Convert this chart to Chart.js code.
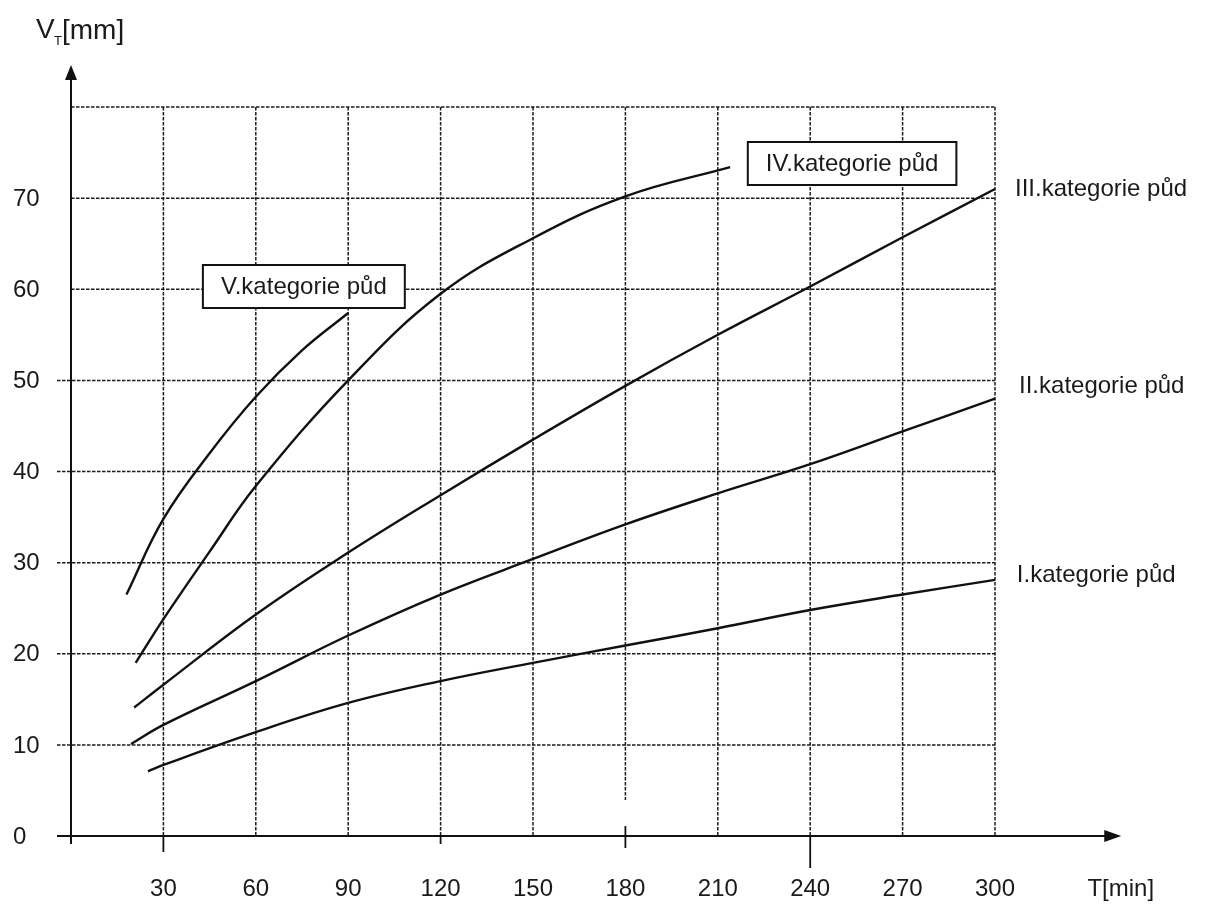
<!DOCTYPE html>
<html><head><meta charset="utf-8">
<script src="https://cdn.jsdelivr.net/npm/chart.js@4.4.1/dist/chart.umd.min.js"></script>
<style>html,body{margin:0;padding:0;background:#fff;}#wrap{position:relative;width:1211px;height:905px;}</style>
</head><body><div id="wrap"><canvas id="c"></canvas></div>
<script>
// ---- data ----
const xTickLabels = [30, 60, 90, 120, 150, 180, 210, 240, 270, 300];
const yTickLabels = [0, 10, 20, 30, 40, 50, 60, 70];
const gridXValues = [30, 60, 90, 120, 150, 180, 210, 240, 270, 300];
const gridYValues = [10, 20, 30, 40, 50, 60, 70, 80];
const seriesNames = ['I.kategorie půd', 'II.kategorie půd', 'III.kategorie půd', 'IV.kategorie půd', 'V.kategorie půd'];

const xI   = [25, 30, 60, 90, 120, 150, 180, 210, 240, 270, 300, 304];
const yI   = [7.1, 7.8, 11.4, 14.6, 17.0, 19.0, 20.9, 22.8, 24.8, 26.5, 28.1, 28.3];
const xII  = [19.5, 30, 60, 90, 120, 150, 180, 210, 240, 270, 300, 304];
const yII  = [10.1, 12.2, 17.0, 22.0, 26.5, 30.4, 34.2, 37.6, 40.8, 44.4, 48.0, 48.5];
const xIII = [20.5, 30, 60, 90, 120, 150, 180, 210, 240, 270, 300, 303];
const yIII = [14.1, 16.6, 24.3, 31.1, 37.4, 43.5, 49.4, 55.0, 60.3, 65.7, 71.0, 71.5];
const xIV  = [21, 30, 45, 60, 90, 120, 150, 180, 214];
const yIV  = [19.0, 23.8, 31.2, 38.4, 50.0, 59.5, 65.6, 70.2, 73.4];
const xV   = [18, 30, 45, 60, 75, 90];
const yV   = [26.5, 34.8, 42.0, 48.2, 53.3, 57.4];

// ---- label placement (data coordinates) ----
const boxedLabels = [ {text: seriesNames[4], x: 75.6, y: 60.3}, {text: seriesNames[3], x: 253.6, y: 73.8} ];
const sideLabels  = [ {text: seriesNames[2], x: 306.5, y: 71.0}, {text: seriesNames[1], x: 307.8, y: 49.3}, {text: seriesNames[0], x: 307.1, y: 28.6} ];

const FONT = '"Liberation Sans", Arial, sans-serif';
function pts(xs, ys){ return xs.map((x,i)=>({x:x, y:ys[i]})); }
function ds(name, xs, ys){
  return {label:name, data:pts(xs,ys), showLine:true, borderColor:'#111', borderWidth:2.4,
          pointRadius:0, tension:0.4, clip:false, fill:false};
}

const decor = {
  id:'decor',
  beforeDatasetsDraw(chart){
    const {ctx, scales:{x, y}} = chart;
    const x0 = x.getPixelForValue(0), y0 = y.getPixelForValue(0);
    const xr = x.getPixelForValue(300), yt = y.getPixelForValue(80);
    ctx.save();
    ctx.strokeStyle = '#1c1c1c'; ctx.lineWidth = 1.5; ctx.setLineDash([3.5,1.5]);
    gridYValues.forEach(v=>{
      const py = y.getPixelForValue(v);
      const start = v <= 50 ? x0 - 14 : x0;
      ctx.beginPath(); ctx.moveTo(start, py); ctx.lineTo(xr, py); ctx.stroke();
    });
    gridXValues.forEach(v=>{
      const px = x.getPixelForValue(v);
      const bottom = v === 180 ? y0 - 36 : y0;
      ctx.beginPath(); ctx.moveTo(px, yt); ctx.lineTo(px, bottom); ctx.stroke();
    });
    ctx.setLineDash([]);
    ctx.strokeStyle = '#111'; ctx.lineWidth = 1.8;
    [[30,16],[120,8],[180,12],[240,32]].forEach(([v,len])=>{
      const px = x.getPixelForValue(v);
      ctx.beginPath(); ctx.moveTo(px, v===180 ? y0-10 : y0); ctx.lineTo(px, y0+len); ctx.stroke();
    });
    ctx.restore();
  },
  afterDatasetsDraw(chart){
    const {ctx, scales:{x, y}} = chart;
    const x0 = x.getPixelForValue(0), y0 = y.getPixelForValue(0);
    ctx.save();
    ctx.strokeStyle = '#111'; ctx.fillStyle = '#111'; ctx.lineWidth = 2;
    const yTop = y.getPixelForValue(84.6);
    ctx.beginPath(); ctx.moveTo(x0, y0 + 8); ctx.lineTo(x0, yTop + 12); ctx.stroke();
    ctx.beginPath(); ctx.moveTo(x0, yTop); ctx.lineTo(x0 - 6, yTop + 15); ctx.lineTo(x0 + 6, yTop + 15); ctx.closePath(); ctx.fill();
    const xEnd = x.getPixelForValue(341);
    ctx.beginPath(); ctx.moveTo(x0 - 14, y0); ctx.lineTo(xEnd - 12, y0); ctx.stroke();
    ctx.beginPath(); ctx.moveTo(xEnd, y0); ctx.lineTo(xEnd - 17, y0 - 6); ctx.lineTo(xEnd - 17, y0 + 6); ctx.closePath(); ctx.fill();

    ctx.fillStyle = '#1a1a1a';
    ctx.font = '24px ' + FONT;
    ctx.textAlign = 'center'; ctx.textBaseline = 'middle';
    xTickLabels.forEach(v=>{ ctx.fillText(String(v), x.getPixelForValue(v), y0 + 53); });
    ctx.textAlign = 'left';
    yTickLabels.forEach(v=>{ ctx.fillText(String(v), 13, y.getPixelForValue(v) + 1); });
    ctx.fillText('T[min]', x.getPixelForValue(330), y0 + 53);

    ctx.textBaseline = 'alphabetic';
    ctx.font = '28px ' + FONT;
    ctx.fillText('V', 36, 38);
    ctx.font = '13px ' + FONT;
    ctx.fillText('T', 54, 45);
    ctx.font = '28px ' + FONT;
    ctx.fillText('[mm]', 62, 39);

    ctx.font = '24px ' + FONT;
    ctx.textBaseline = 'middle';
    boxedLabels.forEach(l=>{
      const cx = x.getPixelForValue(l.x), cy = y.getPixelForValue(l.y);
      const w = ctx.measureText(l.text).width + 36, h = 43;
      ctx.fillStyle = '#fff';
      ctx.fillRect(cx - w/2, cy - h/2, w, h);
      ctx.strokeStyle = '#111'; ctx.lineWidth = 2;
      ctx.strokeRect(cx - w/2, cy - h/2, w, h);
      ctx.fillStyle = '#1a1a1a'; ctx.textAlign = 'center';
      ctx.fillText(l.text, cx, cy + 1);
    });
    ctx.textAlign = 'left';
    sideLabels.forEach(l=>{
      ctx.fillText(l.text, x.getPixelForValue(l.x), y.getPixelForValue(l.y));
    });
    ctx.restore();
  }
};

new Chart(document.getElementById('c'), {
  type:'scatter',
  data:{ datasets:[ ds(seriesNames[0], xI, yI), ds(seriesNames[1], xII, yII), ds(seriesNames[2], xIII, yIII),
                    ds(seriesNames[3], xIV, yIV), ds(seriesNames[4], xV, yV) ] },
  options:{
    responsive:true, maintainAspectRatio:false, animation:false, devicePixelRatio:1,
    layout:{ padding:{ left:71, right:216, top:107, bottom:69 } },
    scales:{
      x:{ type:'linear', min:0, max:300, display:false },
      y:{ type:'linear', min:0, max:80, display:false }
    },
    plugins:{ legend:{display:false}, tooltip:{enabled:false} }
  },
  plugins:[decor]
});
</script></body></html>
